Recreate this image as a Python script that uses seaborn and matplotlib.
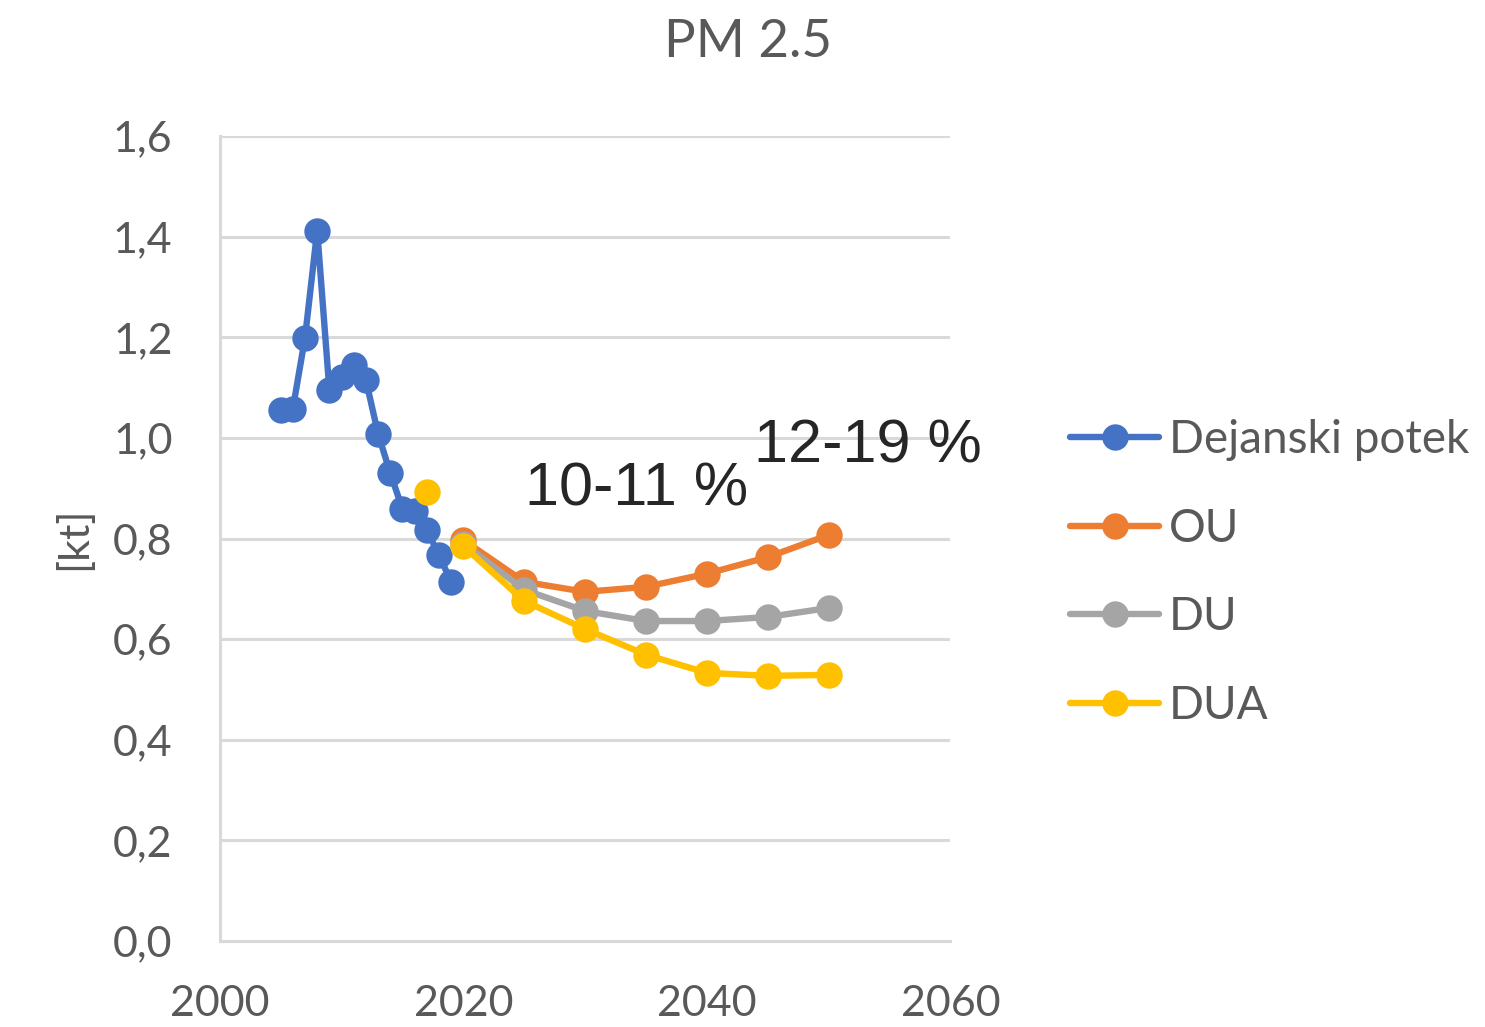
import numpy as np
import pandas as pd
import matplotlib
matplotlib.use("Agg")
import matplotlib.pyplot as plt
import seaborn as sns

# ================================
# Data
# ================================
hist_years = [2005, 2006, 2007, 2008, 2009, 2010, 2011, 2012, 2013, 2014,
              2015, 2016, 2017, 2018, 2019]
hist_values = [1.056, 1.058, 1.199, 1.412, 1.095, 1.121, 1.145, 1.115, 1.008,
               0.930, 0.859, 0.855, 0.817, 0.767, 0.714]

proj_years = [2020, 2025, 2030, 2035, 2040, 2045, 2050]
ou_values = [0.797, 0.714, 0.694, 0.704, 0.730, 0.763, 0.807]
du_values = [0.790, 0.698, 0.656, 0.636, 0.636, 0.644, 0.662]
dua_values = [0.785, 0.676, 0.620, 0.569, 0.533, 0.527, 0.529]

# single DUA point that stands apart from the line
dua_lone_year = [2017]
dua_lone_value = [0.893]

labels = ["Dejanski potek", "OU", "DU", "DUA"]
colors = ["#4472C4", "#ED7D31", "#A5A5A5", "#FFC000"]
yticks = [0.0, 0.2, 0.4, 0.6, 0.8, 1.0, 1.2, 1.4, 1.6]
xticks = [2000, 2020, 2040, 2060]

# ================================
# Plot
# ================================
sns.set_style("white")
plt.rcParams["font.family"] = ["Lato", "DejaVu Sans"]

fig = plt.figure(figsize=(14.85, 10.27), dpi=100)
ax = fig.add_axes([0.148, 0.0837, 0.492, 0.7839])

lw = 4.6
ms = 19
series = [
    (hist_years, hist_values),
    (proj_years, ou_values),
    (proj_years, du_values),
    (proj_years, dua_values),
]
for (xs, ys), lab, col in zip(series, labels, colors):
    sns.lineplot(x=xs, y=ys, ax=ax, color=col, linewidth=lw, marker="o",
                 markersize=ms, markeredgewidth=0, label=lab, zorder=3)

sns.scatterplot(x=dua_lone_year, y=dua_lone_value, ax=ax, color=colors[3],
                s=ms ** 2, linewidth=0, zorder=4, legend=False)

ax.set_xlim(2000, 2060)
ax.set_ylim(0, 1.6)
ax.set_xticks(xticks)
ax.set_yticks(yticks)
ax.set_yticklabels([f"{v:.1f}".replace(".", ",") for v in yticks])
ax.tick_params(axis="both", labelsize=31, colors="#595959", length=0)
ax.tick_params(axis="x", pad=32)
ax.tick_params(axis="y", pad=34)

ax.grid(axis="y", color="#D9D9D9", linewidth=2.2)
ax.set_axisbelow(True)
for s in ["top", "right"]:
    ax.spines[s].set_visible(False)
for s in ["left", "bottom"]:
    ax.spines[s].set_color("#D9D9D9")
    ax.spines[s].set_linewidth(2.2)

ax.set_ylabel("[kt]", fontsize=31, color="#595959", labelpad=14)
ax.set_xlabel("")
fig.text(0.504, 0.959, "PM 2.5", ha="center", va="center", fontsize=38,
         color="#595959")

ax.text(2034.2, 0.897, "10-11 %", ha="center", va="center", fontsize=44,
        color="#262626", family="Liberation Sans")
ax.text(2053.2, 0.982, "12-19 %", ha="center", va="center", fontsize=44,
        color="#262626", family="Liberation Sans")

leg = ax.legend(loc="center left", bbox_to_anchor=(1070 / 1485, 1 - 573 / 1027),
                bbox_transform=fig.transFigure, frameon=False,
                fontsize=33, labelcolor="#595959", handlelength=1.95,
                handletextpad=0.2, labelspacing=1.02, borderaxespad=0,
                borderpad=0)

plt.savefig("out.png", dpi=100)
